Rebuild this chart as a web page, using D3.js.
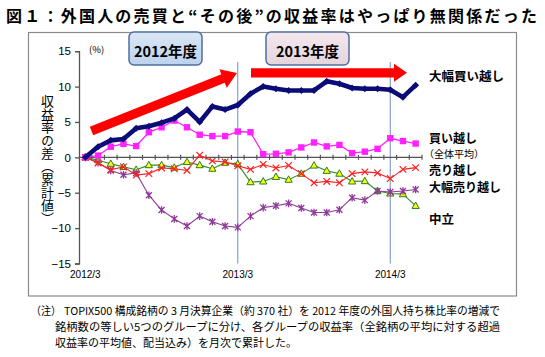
<!DOCTYPE html>
<html><head><meta charset="utf-8">
<script src="https://cdn.jsdelivr.net/npm/d3@7"></script>
<style>
html,body{margin:0;padding:0;background:#fff;}
svg{display:block;}
</style>
</head><body>
<svg id="chart" width="545" height="357"></svg>
<script>
const categories = ["2012/3","2012/4","2012/5","2012/6","2012/7","2012/8","2012/9","2012/10","2012/11","2012/12","2013/1","2013/2","2013/3","2013/4","2013/5","2013/6","2013/7","2013/8","2013/9","2013/10","2013/11","2013/12","2014/1","2014/2","2014/3","2014/4","2014/5"];
const xTickLabels = ["2012/3","2013/3","2014/3"];
const yTicks = [-15,-10,-5,0,5,10,15];
const bigBuy  = [0,1.5,2.4,2.6,4.1,4.4,4.9,5.5,6.75,5.0,7.2,6.75,7.4,9.0,10.0,9.7,9.45,9.45,9.45,10.75,10.4,9.8,9.7,9.7,9.55,8.5,10.2];
const buy     = [0,0.25,1.5,1.9,1.6,3.55,4.25,5.2,4.25,3.2,3.0,3.0,3.65,3.55,0.45,0.5,0.7,1.4,2.1,1.55,1.75,0.6,0.8,1.2,2.7,2.3,1.95];
const sell    = [0,-0.8,-1.75,-1.35,-2.5,-2.3,-1.5,-1.6,-1.85,0.3,-0.5,-0.65,-1.2,-1.7,-1.0,-1.5,-1.15,-2.3,-3.6,-3.4,-3.6,-2.3,-2.05,-2.2,-3.0,-1.7,-1.45];
const bigSell = [0,-0.75,-1.85,-2.45,-2.2,-5.35,-7.45,-8.7,-9.7,-8.3,-9.1,-9.7,-9.9,-8.3,-7.1,-6.85,-6.5,-7.15,-7.8,-7.8,-7.4,-5.7,-6.05,-4.75,-4.9,-4.75,-4.55];
const neutral = [0,-0.4,-0.9,-1.35,-1.75,-1.1,-1.1,-1.45,-0.65,-1.1,-1.6,-0.75,-0.95,-3.5,-3.4,-2.75,-3.15,-2.3,-1.15,-1.9,-2.3,-3.4,-3.35,-4.75,-5.1,-5.2,-6.85];
const seriesLabels = ["大幅買い越し","買い越し","（全体平均）","売り越し","大幅売り越し","中立"];
const periodLabels = ["2012年度","2013年度"];
const titleText = "図１：外国人の売買と“その後”の収益率はやっぱり無関係だった";
const yTitle = "収益率の差（累計値）";
const notes = ["（注）","TOPIX500 構成銘柄の 3 月決算企業（約 370 社）を 2012 年度の外国人持ち株比率の増減で","銘柄数の等しい5つのグループに分け、各グループの収益率（全銘柄の平均に対する超過","収益率の平均値、配当込み）を月次で累計した。"];

const JP = "'Noto Sans CJK JP','Noto Sans',sans-serif";
const svg = d3.select("#chart");
svg.append("rect").attr("width",545).attr("height",357).attr("fill","#fff");

// title
svg.append("text").attr("x",6).attr("y",22).attr("font-family",JP).attr("font-weight","bold")
  .attr("font-size",16).attr("textLength",531).attr("lengthAdjust","spacing").attr("fill","#000").text(titleText);

// frame
svg.append("rect").attr("x",28.5).attr("y",32.5).attr("width",488).attr("height",263.5)
  .attr("fill","none").attr("stroke","#8a8a8a").attr("stroke-width",1.2);

const x = d3.scaleBand().domain(categories).range([79,422]).padding(0);
const cx = c => x(c) + x.bandwidth()/2;
const y = d3.scaleLinear().domain([-15,15]).range([263.5,51.2]);

// vertical year lines
["2013/3","2014/3"].forEach(c=>{
  svg.append("line").attr("x1",cx(c)).attr("x2",cx(c)).attr("y1",62).attr("y2",y(-15))
    .attr("stroke","#6f8fc0").attr("stroke-width",1);
});

// y axis
const yAxis = d3.axisLeft(y).tickValues(yTicks).tickSize(4).tickPadding(4).tickFormat(d3.format("d"));
const ga = svg.append("g").attr("transform","translate(79,0)").call(yAxis);
ga.select(".domain").attr("stroke","#555").attr("stroke-width",1.3);
ga.selectAll(".tick line").attr("stroke","#555").attr("stroke-width",1.3);
ga.selectAll(".tick text").attr("font-family","'Liberation Sans',Arial,sans-serif").attr("font-size",11.5).attr("fill","#000");

svg.append("text").attr("x",89).attr("y",53).attr("font-family",JP).attr("font-size",9.5).attr("fill","#000").text("(%)");

// zero axis with ticks
svg.append("line").attr("x1",79).attr("x2",422).attr("y1",y(0)).attr("y2",y(0)).attr("stroke","#555").attr("stroke-width",1.3);
svg.append("g").selectAll("line").data(categories).join("line")
  .attr("x1",d=>x(d)+x.bandwidth()).attr("x2",d=>x(d)+x.bandwidth())
  .attr("y1",y(0)-2.5).attr("y2",y(0)+2.5).attr("stroke","#555").attr("stroke-width",1.2);

// x labels
svg.append("g").selectAll("text").data(xTickLabels).join("text")
  .attr("x",d=>cx(d)).attr("y",278).attr("text-anchor","middle")
  .attr("font-family","'Liberation Sans',Arial,sans-serif").attr("font-size",10).attr("fill","#000").text(d=>d);

// y title (vertical)
svg.append("text").attr("x",47.5).attr("y",160).attr("font-family",JP).attr("font-size",13)
  .attr("text-anchor","middle").style("writing-mode","vertical-rl").attr("fill","#000").text(yTitle);

const line = d3.line().x((d,i)=>cx(categories[i])).y(d=>y(d));

function drawSeries(vals, color, width, marker){
  const g = svg.append("g");
  g.append("path").datum(vals).attr("d",line).attr("fill","none").attr("stroke",color).attr("stroke-width",width).attr("stroke-linejoin","round");
  const pts = g.selectAll("g").data(vals).join("g").attr("transform",(d,i)=>`translate(${cx(categories[i])},${y(d)})`);
  marker(pts);
}
// neutral - green triangles
drawSeries(neutral,"#2a8f2a",1.1,p=>p.append("path").attr("d","M0,-3.8L3.6,2.6L-3.6,2.6Z").attr("fill","#ffff00").attr("stroke","#2a7a2a").attr("stroke-width",1));
// big sell - purple asterisks
drawSeries(bigSell,"#8e3a98",1.1,p=>p.append("path").attr("d","M-3,-3L3,3M-3,3L3,-3M0,-3.8L0,3.8").attr("stroke","#8e3a98").attr("stroke-width",1.3));
// sell - red x
drawSeries(sell,"#ff2020",1.1,p=>p.append("path").attr("d","M-3.3,-3.3L3.3,3.3M-3.3,3.3L3.3,-3.3").attr("stroke","#ff2020").attr("stroke-width",1.2));
// buy - magenta squares
drawSeries(buy,"#ff22ff",1.3,p=>p.append("rect").attr("x",-3.2).attr("y",-3.2).attr("width",6.4).attr("height",6.4).attr("fill","#ff22ff"));
// big buy - navy thick
drawSeries(bigBuy,"#0c0c78",4.6,p=>p.append("path").attr("d","M0,-3.5L3.5,0L0,3.5L-3.5,0Z").attr("fill","#0c0c78"));

// arrows
function arrow(sx,sy,tx,ty,hw,headW,headL){
  const dx=tx-sx, dy=ty-sy, L=Math.hypot(dx,dy), ux=dx/L, uy=dy/L, nx=-uy, ny=ux;
  const hx=tx-ux*headL, hy=ty-uy*headL;
  const pts=[[sx+nx*hw,sy+ny*hw],[hx+nx*hw,hy+ny*hw],[hx+nx*headW,hy+ny*headW],[tx,ty],[hx-nx*headW,hy-ny*headW],[hx-nx*hw,hy-ny*hw],[sx-nx*hw,sy-ny*hw]];
  svg.append("path").attr("d","M"+pts.map(p=>p.join(",")).join("L")+"Z").attr("fill","#ff0000");
}
arrow(91.5,131,237,73,4.6,10,15);
arrow(251,72.8,407,72.8,4.6,9,13);

// period boxes
const defs = svg.append("defs");
const g1 = defs.append("linearGradient").attr("id","gb").attr("x1",0).attr("y1",0).attr("x2",0).attr("y2",1);
g1.append("stop").attr("offset","0").attr("stop-color","#dbe7f6");
g1.append("stop").attr("offset","1").attr("stop-color","#bcd2ee");
const g2 = defs.append("linearGradient").attr("id","gp").attr("x1",0).attr("y1",0).attr("x2",0).attr("y2",1);
g2.append("stop").attr("offset","0").attr("stop-color","#f4e8ee");
g2.append("stop").attr("offset","1").attr("stop-color","#e4d4dc");
const boxes = [{x:129,w:73,fill:"url(#gb)"},{x:266,w:83,fill:"url(#gp)"}];
boxes.forEach((b,i)=>{
  svg.append("rect").attr("x",b.x).attr("y",32).attr("width",b.w).attr("height",33).attr("rx",5)
    .attr("fill",b.fill).attr("stroke","#4f6fa0").attr("stroke-width",1.5);
  svg.append("text").attr("x",b.x+b.w/2).attr("y",56.5).attr("text-anchor","middle").attr("font-family",JP)
    .attr("font-weight","bold").attr("font-size",14.5).attr("fill","#000").text(periodLabels[i]);
});

// series labels (centre y, size, bold)
const labelY = [76.7,138.5,154.5,170.5,188,219.3];
const labelSize = [12.5,12,10,12,12,12.5];
seriesLabels.forEach((t,i)=>{
  const reg = i===2;
  svg.append("text").attr("x",reg?424:429).attr("y",labelY[i]+0.36*labelSize[i]).attr("font-family",JP)
    .attr("font-weight",reg?"normal":"bold").attr("font-size",labelSize[i]).attr("fill","#000").text(t);
});

// notes
const nf = {"font-family":JP,"font-size":11,"fill":"#000"};
function note(t,xx,yy,len){
  const e = svg.append("text").attr("x",xx).attr("y",yy).text(t);
  Object.entries(nf).forEach(([k,v])=>e.attr(k,v));
  if(len) e.attr("textLength",len).attr("lengthAdjust","spacingAndGlyphs");
}
note(notes[0],31,315,30);
note(notes[1],64,315,436);
note(notes[2],55,331,445);
note(notes[3],55,347);
</script>
</body></html>
